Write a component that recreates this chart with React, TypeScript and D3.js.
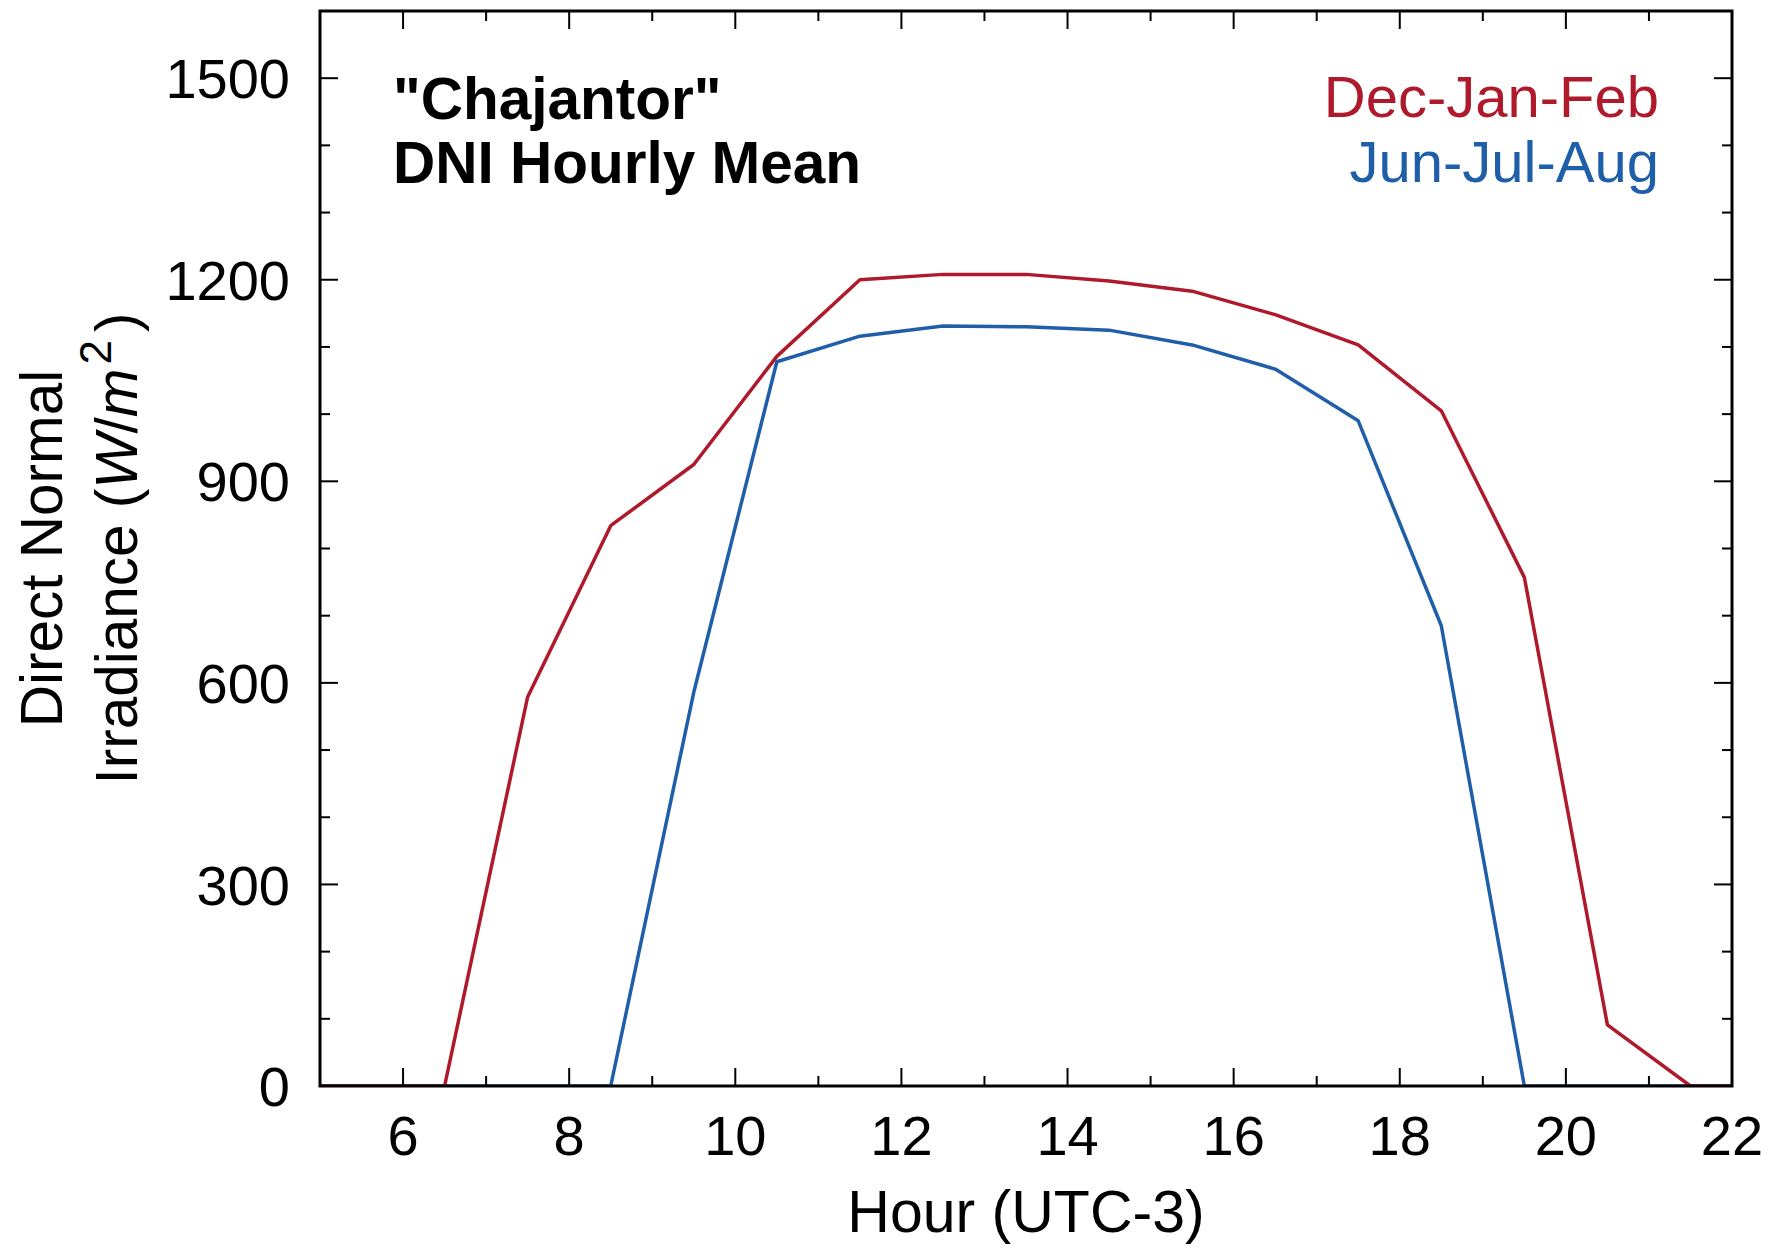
import React from "react";
import * as d3 from "d3";

const hours = [4.5, 5.5, 6.5, 7.5, 8.5, 9.5, 10.5, 11.5, 12.5, 13.5, 14.5, 15.5, 16.5, 17.5, 18.5, 19.5, 20.5, 21.5, 22.5];
const summerDJF = [0, 0, 0, 579, 834, 925, 1086, 1200, 1208, 1208, 1198, 1183, 1148, 1103, 1005, 757, 91, 0, 0];
const winterJJA = [0, 0, 0, 0, 0, 586, 1078, 1116, 1131, 1130, 1125, 1103, 1067, 990, 685, 0, 0, 0, 0];
const xMajorTicks = [6, 8, 10, 12, 14, 16, 18, 20, 22];
const xMinorTicks = [5, 7, 9, 11, 13, 15, 17, 19, 21];
const yMajorTicks = [0, 300, 600, 900, 1200, 1500];
const yMinorTicks = [100, 200, 400, 500, 700, 800, 1000, 1100, 1300, 1400, 1600];

const W = 1768, H = 1248;
const L = 320, R = 1732, T = 11, B = 1086;
const RED = "#ae1a2c";
const BLUE = "#1f5ea8";
const FONT = "'Liberation Sans', Arial, sans-serif";

export default function App() {
  const x = d3.scaleLinear().domain([5, 22]).range([L, R]);
  const y = d3.scaleLinear().domain([0, 1600]).range([B, T]);
  const line = d3.line<number>().x((_, i) => x(hours[i])).y((d) => y(d));
  const majorLen = 18, minorLen = 10;

  return (
    <svg width={W} height={H} style={{ position: "absolute", left: 0, top: 0, background: "#fff" }} fontFamily={FONT}>
      <defs>
        <clipPath id="plot">
          <rect x={L} y={T} width={R - L} height={B - T} />
        </clipPath>
      </defs>
      <rect x={0} y={0} width={W} height={H} fill="#fff" />
      <g clipPath="url(#plot)" fill="none" strokeWidth={3.5} strokeLinejoin="round">
        <path d={line(winterJJA) || ""} stroke={BLUE} />
        <path d={line(summerDJF) || ""} stroke={RED} />
      </g>
      <g stroke="#000" strokeWidth={2}>
        {xMajorTicks.map((t) => (
          <g key={"xm" + t}>
            <line x1={x(t)} x2={x(t)} y1={B} y2={B - majorLen} />
            <line x1={x(t)} x2={x(t)} y1={T} y2={T + majorLen} />
          </g>
        ))}
        {xMinorTicks.map((t) => (
          <g key={"xn" + t}>
            <line x1={x(t)} x2={x(t)} y1={B} y2={B - minorLen} />
            <line x1={x(t)} x2={x(t)} y1={T} y2={T + minorLen} />
          </g>
        ))}
        {yMajorTicks.map((t) => (
          <g key={"ym" + t}>
            <line x1={L} x2={L + majorLen} y1={y(t)} y2={y(t)} />
            <line x1={R} x2={R - majorLen} y1={y(t)} y2={y(t)} />
          </g>
        ))}
        {yMinorTicks.map((t) => (
          <g key={"yn" + t}>
            <line x1={L} x2={L + minorLen} y1={y(t)} y2={y(t)} />
            <line x1={R} x2={R - minorLen} y1={y(t)} y2={y(t)} />
          </g>
        ))}
      </g>
      <rect x={L} y={T} width={R - L} height={B - T} fill="none" stroke="#000" strokeWidth={3} />
      <g fontSize={56} fill="#000">
        {xMajorTicks.map((t) => (
          <text key={"xl" + t} x={x(t)} y={1155} textAnchor="middle">{t}</text>
        ))}
        {yMajorTicks.map((t) => (
          <text key={"yl" + t} x={290} y={y(t)} dy="0.36em" textAnchor="end">{t}</text>
        ))}
      </g>
      <text x={(L + R) / 2} y={1232} fontSize={59} textAnchor="middle">Hour (UTC-3)</text>
      <g transform={`translate(0, ${(T + B) / 2}) rotate(-90)`} fontSize={58.5}>
        <text x={0} y={62} textAnchor="middle">Direct Normal</text>
        <text x={0} y={137} textAnchor="middle">
          Irradiance (<tspan fontStyle="italic">W</tspan>/<tspan fontStyle="italic">m</tspan>
          <tspan fontSize={44} dx={4} dy={-26}>2</tspan>
          <tspan dx={8} dy={26}>)</tspan>
        </text>
      </g>
      <g fontSize={58.5} fontWeight="bold">
        <text x={393} y={119}>"Chajantor"</text>
        <text x={393} y={183}>DNI Hourly Mean</text>
      </g>
      <g fontSize={58} textAnchor="end">
        <text x={1659} y={117} fill={RED}>Dec-Jan-Feb</text>
        <text x={1659} y={182} fill={BLUE}>Jun-Jul-Aug</text>
      </g>
    </svg>
  );
}
